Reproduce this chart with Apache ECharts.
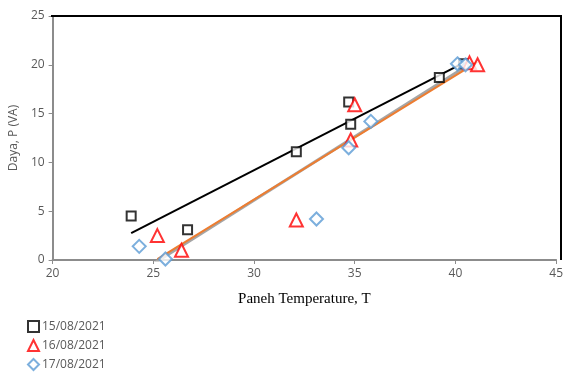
<!DOCTYPE html>
<html><head><meta charset="utf-8">
<script src="https://cdn.jsdelivr.net/npm/echarts@6/dist/echarts.min.js"></script>
<style>html,body{margin:0;padding:0;background:#fff}#c{width:566px;height:372px}</style>
</head><body><div id="c"></div>
<script>
// Series data [temperature, power]
const s15 = [[23.9,4.5],[26.7,3.1],[32.1,11.1],[34.7,16.2],[34.8,13.9],[39.2,18.7],[40.4,20.1]];
const s16 = [[25.2,2.5],[26.4,1.0],[32.1,4.1],[35.0,15.9],[34.8,12.3],[40.7,20.2],[41.1,20.0]];
const s17 = [[24.3,1.4],[25.6,0.1],[33.1,4.2],[34.7,11.5],[35.8,14.2],[40.1,20.1],[40.5,20.0]];
// Trendline endpoints
const trend15 = [[23.9,2.75],[40.5,20.3]];
const trend16 = [[25.2,0.1],[41.1,20.3]];
const trend17 = [[24.3,-1.3],[40.5,19.8]];
const names = ['15/08/2021','16/08/2021','17/08/2021'];
const xTicks = {min:20,max:45,interval:5};
const yTicks = {min:0,max:25,interval:5};

const font = '"Open Sans", "Noto Sans", sans-serif';
const chart = echarts.init(document.getElementById('c'));
chart.setOption({
  animation:false,
  grid:{left:51,right:5,top:16,bottom:112},
  xAxis:{type:'value',min:xTicks.min,max:xTicks.max,interval:xTicks.interval,
    name:'Paneh Temperature, T',nameLocation:'middle',nameGap:32,
    nameTextStyle:{fontFamily:'"Liberation Serif", serif',fontSize:15,color:'#000'},
    axisLine:{show:true,onZero:false,lineStyle:{color:'#8c8c8c',width:2}},
    axisTick:{show:true,length:4,lineStyle:{color:'#8c8c8c'}},
    axisLabel:{color:'#595959',fontFamily:font,fontSize:12,margin:8},
    splitLine:{show:false}},
  yAxis:{type:'value',min:yTicks.min,max:yTicks.max,interval:yTicks.interval,
    name:'Daya, P (VA)',nameLocation:'middle',nameGap:30,
    nameTextStyle:{fontFamily:font,fontSize:12,color:'#595959'},
    axisLine:{show:true,lineStyle:{color:'#8c8c8c',width:2}},
    axisTick:{show:true,length:4,lineStyle:{color:'#8c8c8c'}},
    axisLabel:{color:'#595959',fontFamily:font,fontSize:12,margin:8},
    splitLine:{show:false}},
  legend:{data:names,orient:'vertical',left:27,top:320,padding:0,height:60,itemGap:6,itemWidth:11,itemHeight:11,
    textStyle:{color:'#595959',fontFamily:font,fontSize:12,padding:[0,0,0,-2]}},
  graphic:[{type:'polyline',shape:{points:[[51,16],[561,16],[561,260]]},style:{stroke:'#000',lineWidth:2,fill:null},z:10}],
  series:[
    {name:'trend15',type:'line',data:trend15,symbol:'none',lineStyle:{color:'#000',width:2},z:3},
    {name:'trend17',type:'line',data:trend17,symbol:'none',lineStyle:{color:'#a5a5a5',width:3},z:3},
    {name:'trend16',type:'line',data:trend16,symbol:'none',lineStyle:{color:'#ed7d31',width:2},z:4},
    {name:names[0],type:'scatter',data:s15,symbol:'rect',symbolSize:9,
      itemStyle:{color:'#fff',borderColor:'#000',borderWidth:2},z:5},
    {name:names[1],type:'scatter',data:s16,symbol:'triangle',symbolSize:13,
      itemStyle:{color:'#fff',borderColor:'#ff0000',borderWidth:2},z:5},
    {name:names[2],type:'scatter',data:s17,symbol:'diamond',symbolSize:13,
      itemStyle:{color:'#fff',borderColor:'#5b9bd5',borderWidth:2},z:5}
  ]
});
</script></body></html>
